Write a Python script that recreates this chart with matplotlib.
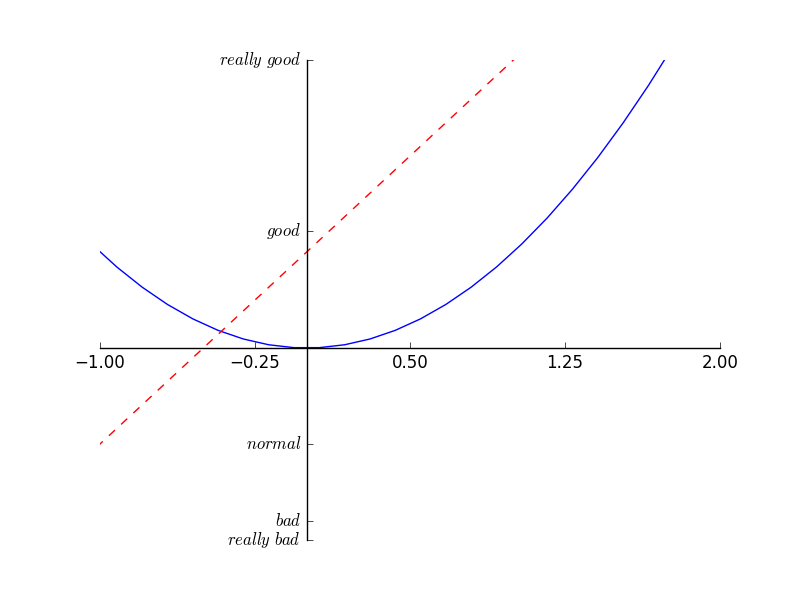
import matplotlib
matplotlib.use("Agg")
import matplotlib.pyplot as plt

plt.style.use('classic')

# Blue curve sample points (visible portion)
x_curve = [-1.0408, -0.9184, -0.7959, -0.6735, -0.5510, -0.4286, -0.3061, -0.1837,
           -0.0612, 0.0612, 0.1837, 0.3061, 0.4286, 0.5510, 0.6735, 0.7959,
           0.9184, 1.0408, 1.1633, 1.2857, 1.4082, 1.5306, 1.6531, 1.7755]
y_curve = [1.0833, 0.8434, 0.6335, 0.4536, 0.3036, 0.1837, 0.0937, 0.0337,
           0.0037, 0.0037, 0.0337, 0.0937, 0.1837, 0.3036, 0.4536, 0.6335,
           0.8434, 1.0833, 1.3532, 1.6531, 1.9829, 2.3428, 2.7326, 3.1524]

# Red dashed line endpoints
x_line = [-3.0, 3.0]
y_line = [-5.0, 7.0]

xtick_vals = [-1.0, -0.25, 0.5, 1.25, 2.0]
ytick_vals = [-2, -1.8, -1, 1.22, 3]
ytick_labels = [r'$really\ bad$', r'$bad$', r'$normal$', r'$good$', r'$really\ good$']

fig = plt.figure(figsize=(8, 6), dpi=100, facecolor='white')
ax = fig.add_subplot(111)
ax.plot(x_curve, y_curve, color='blue', linewidth=1.0)
ax.plot(x_line, y_line, color='red', linewidth=1.0, linestyle='--')
ax.set_xlim(-1, 2)
ax.set_ylim(-2, 3)
ax.set_xticks(xtick_vals)
ax.set_yticks(ytick_vals)
ax.set_yticklabels(ytick_labels)

ax.spines['right'].set_color('none')
ax.spines['top'].set_color('none')
ax.xaxis.set_ticks_position('bottom')
ax.yaxis.set_ticks_position('left')
ax.spines['bottom'].set_position(('data', 0))
ax.spines['left'].set_position(('data', 0))

fig.savefig('out.png', dpi=100, facecolor='white')
